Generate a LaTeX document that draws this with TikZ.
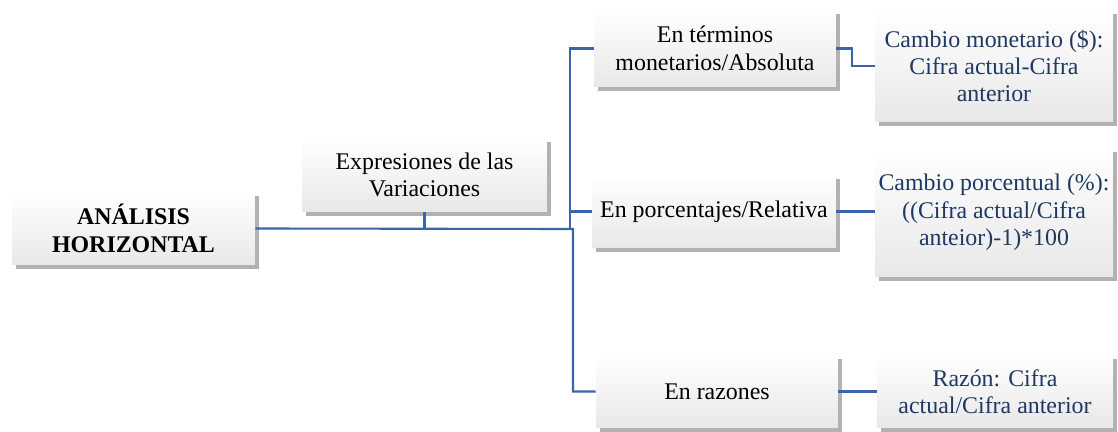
\documentclass[tikz,border=0pt]{standalone}
\usepackage{fontspec}
\setmainfont{Liberation Serif}
\usetikzlibrary{positioning,calc,shadows}
\definecolor{linkblue}{HTML}{3C64AA}
\definecolor{txtblue}{HTML}{1F3864}

\begin{document}
\begin{tikzpicture}[x=0.02cm, y=-0.02cm,
  box/.style={top color=white, bottom color=gray!18, draw=none,
              drop shadow={shadow xshift=2.2pt, shadow yshift=-2.2pt, fill=black!55, opacity=.55},
              align=center, inner sep=2pt,
              font=\fontsize{13.6}{15.6}\selectfont},
  rbox/.style={box, text=txtblue},
  link/.style={draw=linkblue, line width=1.2pt},
]
\useasboundingbox (0,0) rectangle (1118,432);

% left part
\node[box, font=\fontsize{13.6}{15.6}\selectfont\bfseries,
      minimum width=4.86cm, minimum height=1.46cm] (ana) at (133.5,228.5) {ANÁLISIS\\HORIZONTAL};
\node[box, minimum width=4.9cm, minimum height=1.48cm] (expr) at (424.5,175) {Expresiones de las\\Variaciones};

% middle column
\node[box, minimum width=4.84cm, minimum height=1.54cm] (term) at (715,48.5) {En términos\\monetarios/Absoluta};
\node[box, minimum width=4.88cm, minimum height=1.46cm] (porc) at (714,211.5) {En porcentajes/Relativa};
\node[box, minimum width=4.84cm, minimum height=1.46cm] (raz) at (717,391.5) {En razones};

% right column
\node[rbox, minimum width=4.76cm, minimum height=2.24cm] (mon) at (994,66) {Cambio monetario (\$):\\Cifra actual-Cifra\\anterior};
\node[rbox, minimum width=4.76cm, minimum height=2.58cm] (pct) at (994,212.5) {Cambio porcentual (\%):\\((Cifra actual/Cifra\\anteior)-1)*100};
\node[rbox, minimum width=4.72cm, minimum height=1.46cm] (rzn) at (995,391.5) {Razón: Cifra\\actual/Cifra anterior};

% connectors
\coordinate (jog) at (570,229);
\coordinate (hub) at (573,229);
\draw[link] (ana.east) -- (hub) |- (raz.west);
\draw[link] (expr.south) -- (expr.south |- ana.east);
\draw[link] (term.west) -| (jog) -- (hub);
\draw[link] (porc.west) -- (porc.west -| jog);
\draw[link] (term.east) -- ++(16,0) |- (mon.west);
\draw[link] (porc.east) -- (porc.east -| pct.west);
\draw[link] (raz.east) -- (rzn.west);

\end{tikzpicture}
\end{document}
